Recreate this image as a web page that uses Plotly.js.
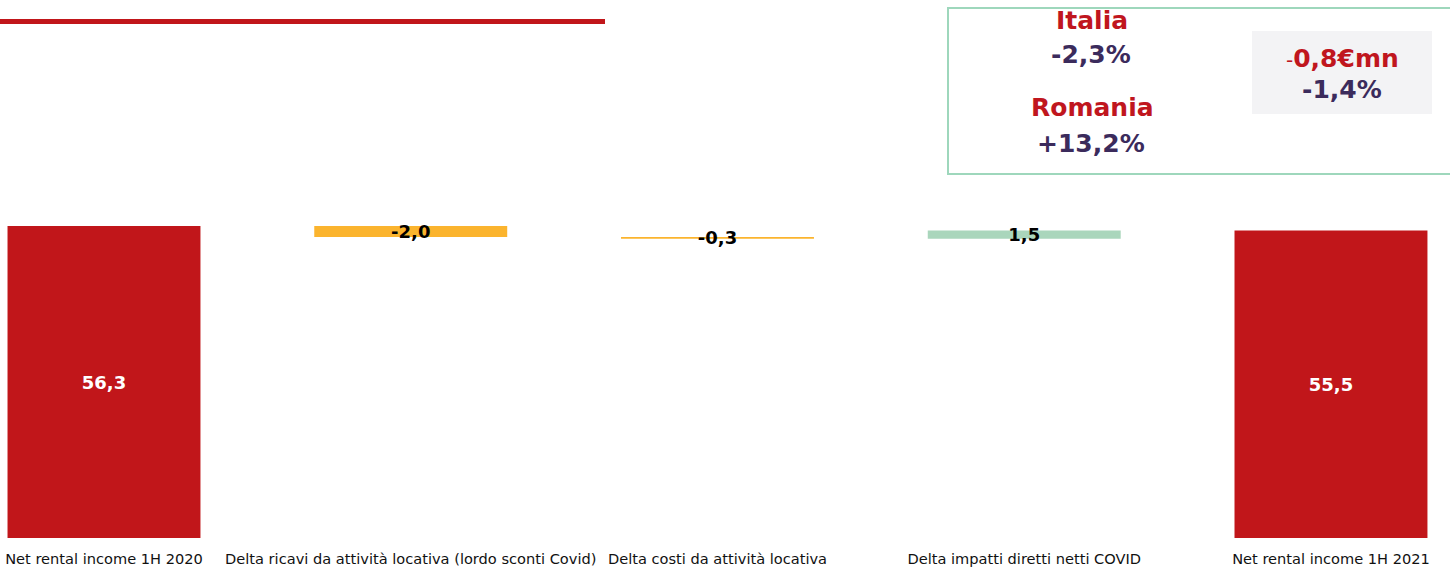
<!DOCTYPE html>
<html>
<head>
<meta charset="utf-8">
<script src="https://cdn.plot.ly/plotly-3.0.1.min.js"></script>
<style>html,body{margin:0;padding:0;background:#fff;}#chart{width:1450px;height:568px;}</style>
</head>
<body>
<div id="chart"></div>
<script>
const categories = [
  "Net rental income 1H 2020",
  "Delta ricavi da attività locativa (lordo sconti Covid)",
  "Delta costi da attività locativa",
  "Delta impatti diretti netti COVID",
  "Net rental income 1H 2021"
];
const values = [56.3, -2.0, -0.3, 1.5, 55.5];
const measures = ["absolute", "relative", "relative", "relative", "total"];
const labelColors = ["#ffffff", "#000000", "#000000", "#000000", "#ffffff"];

function fmt(v) { return v.toFixed(1).replace('.', ','); }
const barText = values.map(fmt);

const W = 1450, PLOT_H = 538;
const px = (x) => x / W;
const py = (y) => 1 - y / PLOT_H;

const trace = {
  type: "waterfall",
  x: categories,
  y: values,
  measure: measures,
  text: barText,
  textinfo: "text",
  textposition: "inside",
  insidetextanchor: "middle",
  constraintext: "none",
  insidetextfont: { family: "DejaVu Sans", size: 18, color: labelColors, weight: "bold" },
  width: 0.629,
  connector: { visible: false },
  decreasing: { marker: { color: "#FBB42E" } },
  increasing: { marker: { color: "#AAD6BC" } },
  totals: { marker: { color: "#C1161A" } },
  hoverinfo: "skip"
};

const purple = "#3B2B5C", red = "#C0161E";
const big = { family: "DejaVu Sans", size: 25, weight: "bold" };
function ann(text, x, y, color) {
  return { text: text, xref: "paper", yref: "paper", x: px(x), y: py(y),
    xanchor: "center", yanchor: "middle", showarrow: false,
    font: Object.assign({}, big, { color: color }) };
}

const layout = {
  width: 1450, height: 568,
  margin: { l: 0, r: 0, t: 0, b: 30 },
  paper_bgcolor: "#fff", plot_bgcolor: "#fff",
  showlegend: false,
  xaxis: {
    type: "category",
    range: [-0.339, 4.388],
    showgrid: false, zeroline: false, showline: false, ticks: "",
    tickfont: { family: "DejaVu Sans", size: 14.6, color: "#111111" },
    ticklabelstandoff: 10
  },
  yaxis: {
    range: [0, 97.08],
    visible: false, showgrid: false, zeroline: false
  },
  shapes: [
    { type: "line", xref: "paper", yref: "paper", x0: 0, x1: px(605), y0: py(21.5), y1: py(21.5),
      line: { color: "#C1161A", width: 5 } },
    { type: "rect", xref: "paper", yref: "paper", x0: px(948), x1: px(1460), y0: py(174), y1: py(8),
      line: { color: "#9ED7BC", width: 2 }, fillcolor: "rgba(0,0,0,0)" },
    { type: "rect", xref: "paper", yref: "paper", x0: px(1252), x1: px(1432), y0: py(114), y1: py(31),
      line: { width: 0 }, fillcolor: "#F3F3F5", layer: "below" }
  ],
  annotations: [
    ann("Italia", 1092, 21, red),
    ann("-2,3%", 1091, 55, purple),
    ann("Romania", 1092, 108, red),
    ann("+13,2%", 1091, 143, purple),
    ann("<span style='font-weight:normal;font-size:20px'>-</span>0,8€mn", 1342, 58, red),
    ann("-1,4%", 1342, 90, purple)
  ]
};

Plotly.newPlot("chart", [trace], layout, { displayModeBar: false, staticPlot: true });
</script>
</body>
</html>
